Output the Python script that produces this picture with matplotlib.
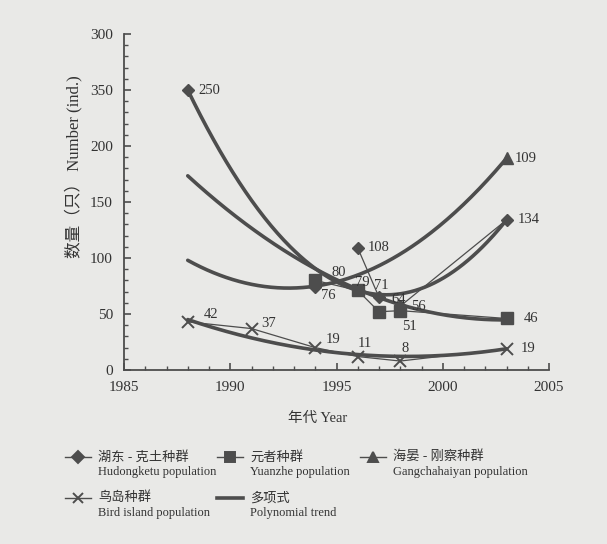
import numpy as np
import matplotlib
matplotlib.use('Agg')
import matplotlib.pyplot as plt
from matplotlib.lines import Line2D

plt.rcParams['font.family'] = ['Liberation Serif', 'Noto Sans CJK SC']

# 数据
hud_years = [1988, 1994, 1996, 1997, 1998, 2003]
hud_vals = [250, 74, 109, 65, 57, 134]
hud_labels = ['250', '76', '108', '71', '56', '134']
hud_offs = [(22, 0), (13, -8), (21, 0), (2, 12), (18, 0), (22, 0)]
hud_line_from = 2  # thin data line only visible from 1996 on

yz_years = [1994, 1996, 1997, 1998, 2003]
yz_vals = [80, 71, 52, 53, 46]
yz_labels = ['', '79', '64', '51', '46']
yz_offs = [(0, 0), (5, 8), (20, 12), (9, -16), (24, 0)]

gc_years = [1994, 2003]
gc_vals = [80, 189]
gc_labels = ['80', '109']
gc_offs = [(24, 8), (19, 0)]

bird_years = [1988, 1991, 1994, 1996, 1998, 2003]
bird_vals = [43, 37, 20, 12, 8, 19]
bird_labels = ['42', '37', '19', '11', '8', '19']
bird_offs = [(23, 7), (17, 5), (18, 8), (7, 13), (5, 13), (22, 0)]

# 多项式趋势线
hud_trend_years = [1988, 1994.7, 1997.5, 2003]
hud_trend_vals = [250, 82, 67, 134]
yz_trend_years = [1988, 1994.7, 2000, 2003]
yz_trend_vals = [173, 85, 47, 46]
gc_trend_years = [1988, 1993, 1996, 2003]
gc_trend_vals = [98, 73, 85, 189]
bird_trend_years = [1988, 1994, 1998, 2003]
bird_trend_vals = [45, 18, 12, 19]

ytick_vals = [0, 50, 100, 150, 200, 250, 300]
ytick_text = ['0', '50', '100', '150', '200', '350', '300']
xtick_vals = [1985, 1990, 1995, 2000, 2005]

bg = '#e9e9e7'
ink = '#4d4d4d'
txt = '#333333'

fig = plt.figure(figsize=(6.07, 5.44), dpi=100, facecolor=bg)
ax = fig.add_axes([124 / 607, 1 - 370 / 544, 425 / 607, 336 / 544])
ax.set_facecolor(bg)

# 趋势线
xs = np.linspace(1988, 2003, 200)
for ty, tv in [(hud_trend_years, hud_trend_vals), (yz_trend_years, yz_trend_vals),
               (gc_trend_years, gc_trend_vals), (bird_trend_years, bird_trend_vals)]:
    coef = np.polyfit(ty, tv, 2)
    ax.plot(xs, np.polyval(coef, xs), color=ink, lw=2.6, solid_capstyle='round', zorder=2)

# 数据线
ax.plot(gc_years, gc_vals, color=ink, ls='none', marker='^', ms=8, zorder=3)
ax.plot(hud_years[hud_line_from:], hud_vals[hud_line_from:], color=ink, lw=0.9, zorder=4)
ax.plot(hud_years, hud_vals, color=ink, ls='none', marker='D', ms=6, zorder=4)
ax.plot(yz_years, yz_vals, color=ink, lw=0.9, marker='s', ms=9, zorder=4)
ax.plot(bird_years, bird_vals, color=ink, lw=0.9, marker='x', ms=9, mew=1.4, zorder=4)

for ys, vs, labs, offs in [(hud_years, hud_vals, hud_labels, hud_offs),
                           (yz_years, yz_vals, yz_labels, yz_offs),
                           (gc_years, gc_vals, gc_labels, gc_offs),
                           (bird_years, bird_vals, bird_labels, bird_offs)]:
    for x, y, s, o in zip(ys, vs, labs, offs):
        if s:
            ax.annotate(s, (x, y), xytext=o, textcoords='offset pixels',
                        ha='center', va='center', fontsize=10.5, color=txt, zorder=5)

ax.set_xlim(1985, 2005)
ax.set_ylim(0, 300)
ax.set_xticks(xtick_vals)
ax.set_xticks(range(1985, 2006), minor=True)
ax.set_yticks(ytick_vals)
ax.set_yticklabels(ytick_text)
ax.set_yticks(range(0, 301, 10), minor=True)
ax.tick_params(which='both', direction='in', color=ink, labelcolor=txt, labelsize=11)
ax.tick_params(which='major', length=5, width=1.2)
ax.tick_params(which='minor', length=3, width=1.0)
ax.tick_params(axis='x', pad=8)
ax.tick_params(axis='y', pad=8)
for s in ['top', 'right']:
    ax.spines[s].set_visible(False)
for s in ['left', 'bottom']:
    ax.spines[s].set_color(ink)
    ax.spines[s].set_linewidth(1.3)

fig.text(318 / 607, 1 - 418 / 544, '年代 Year', ha='center', va='center', fontsize=10.5, color=txt)
fig.text(73 / 607, 1 - 167 / 544, '数量（只） Number (ind.)', ha='center', va='center',
         rotation=90, fontsize=12, color=txt)

# 图例 (drawn by hand to keep the two-line labels)
legend_items = [
    ('D', 6, 1.0, 65, 457, '湖东 - 克土种群', 'Hudongketu population'),
    ('s', 7, 1.0, 217, 457, '元者种群', 'Yuanzhe population'),
    ('^', 7, 1.0, 360, 457, '海晏 - 刚察种群', 'Gangchahaiyan population'),
    ('x', 7, 1.0, 65, 498, '鸟岛种群', 'Bird island population'),
    (None, 0, 2.6, 217, 498, '多项式', 'Polynomial trend'),
]
for m, ms, lw, x0, y0, cn, en in legend_items:
    yf = 1 - y0 / 544
    fig.add_artist(Line2D([x0 / 607, (x0 + 26) / 607], [yf, yf], color=ink, lw=lw,
                          transform=fig.transFigure))
    if m:
        fig.add_artist(Line2D([(x0 + 13) / 607], [yf], color=ink, marker=m, ms=ms,
                              mew=1.4, transform=fig.transFigure))
    fig.text((x0 + 33) / 607, yf, cn, ha='left', va='center', fontsize=9.5, color=txt)
    fig.text((x0 + 33) / 607, 1 - (y0 + 15) / 544, en, ha='left', va='center',
             fontsize=9, color=txt)

fig.savefig('out.png', dpi=100, facecolor=bg)
